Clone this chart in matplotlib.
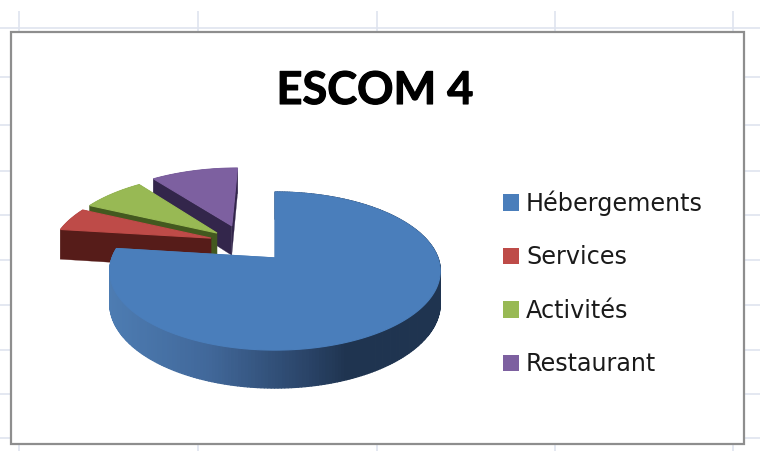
#!/usr/bin/env python3
"""Excel style 3D pie chart, ESCOM 4"""

import numpy as np
import matplotlib
matplotlib.use('Agg')
import matplotlib.pyplot as plt
import matplotlib.patheffects as pe
from matplotlib.collections import PolyCollection
from matplotlib.colors import LinearSegmentedColormap
from matplotlib.patches import Patch

title = 'ESCOM 4'
categories = ['Hébergements', 'Services', 'Activités', 'Restaurant']
values = [77, 5, 7.5, 10.5]

top_colors = ['#4a7ebb', '#be4b48', '#98b954', '#7d60a0']
side_colors = ['#1f3450', '#561c19', '#43591f', '#33264b']
# how far each slice is pulled out, in units of the pie radius (sideways, backwards)
explode = [(0, 0), (-0.41, 0.27), (-0.376, 0.343), (-0.285, 0.45)]

# perspective of the disc, in pixels
CX, CY = 275, 258
RX, RY = 163, 76.9
DEPTH = 31.7
PERSP = 0.165

grid_color = '#dfe4ef'
frame_color = '#8e8e8e'
grid_x = [19, 198, 377, 555, 733]
grid_y = [28, 77, 125, 171, 215, 260, 305, 350, 394, 438]


def project(u, v, z=0):
    w = 1 + PERSP * v
    return CX + RX * u / w, CY - RY * v / w + z * DEPTH / w


def slice_outline(start, end, offset):
    # angles in degrees, clockwise from 12 o'clock
    a = np.radians(np.linspace(start, end, max(int(end - start), 2) + 1))
    u = np.concatenate([[0], np.sin(a), [0]]) + offset[0]
    v = np.concatenate([[0], np.cos(a), [0]]) + offset[1]
    return u, v


fig = plt.figure(figsize=(7.6, 4.51), dpi=100)
ax = fig.add_axes([0, 0, 1, 1])
ax.set_xlim(0, 760)
ax.set_ylim(451, 0)
ax.axis('off')

# spreadsheet grid behind the chart
ax.vlines(grid_x, 11, 451, color=grid_color, lw=1.2, zorder=1)
ax.hlines(grid_y, 0, 760, color=grid_color, lw=1.2, zorder=1)
ax.add_patch(plt.Rectangle((10.5, 32), 733, 412, facecolor='white',
                           edgecolor=frame_color, lw=1.6, zorder=2))

angles = np.cumsum([0] + [x / sum(values) * 360 for x in values])
blue_side = LinearSegmentedColormap.from_list(
    'side', [(0, '#4d7cb2'), (0.3, '#41689a'), (0.6, '#2a4468'), (0.72, '#1f3450'), (1, '#1f3450')])

# back slices first, the big one last
for i in [3, 2, 1, 0]:
    u, v = slice_outline(angles[i], angles[i + 1], explode[i])
    x0, y0 = project(u, v)
    x1, y1 = project(u, v, 1)
    quads = [[(x0[j], y0[j]), (x0[j + 1], y0[j + 1]), (x1[j + 1], y1[j + 1]), (x1[j], y1[j])]
             for j in range(len(u) - 1)]
    if i == 0:
        colors = [blue_side((x0[j] - x0.min()) / (x0.max() - x0.min())) for j in range(len(u) - 1)]
    else:
        colors = [side_colors[i]] * len(quads)
    ax.add_collection(PolyCollection(quads, facecolors=colors, edgecolors='face',
                                     linewidths=0.9 if i == 0 else 0.2, zorder=3 + (3 - i) * 2))
    ax.fill(x0, y0, color=top_colors[i], lw=0.8, zorder=4 + (3 - i) * 2)

ax.text(375, 104, title, fontsize=32.5, fontweight='bold', family='Lato',
        ha='center', va='baseline', color='black', zorder=20,
        path_effects=[pe.withStroke(linewidth=0.8, foreground='black')])

handles = [Patch(facecolor=c, edgecolor='none') for c in top_colors]
fig.legend(handles, categories, loc='upper left', bbox_to_anchor=(503 / 760, 1 - 190.5 / 451),
           frameon=False, prop={'family': 'DejaVu Sans', 'size': 17.2},
           handlelength=0.67, handleheight=0.67, handletextpad=0.29,
           labelspacing=1.23, borderpad=0, borderaxespad=0, labelcolor='#1a1a1a')

fig.savefig('out.png', dpi=100)
plt.close(fig)
